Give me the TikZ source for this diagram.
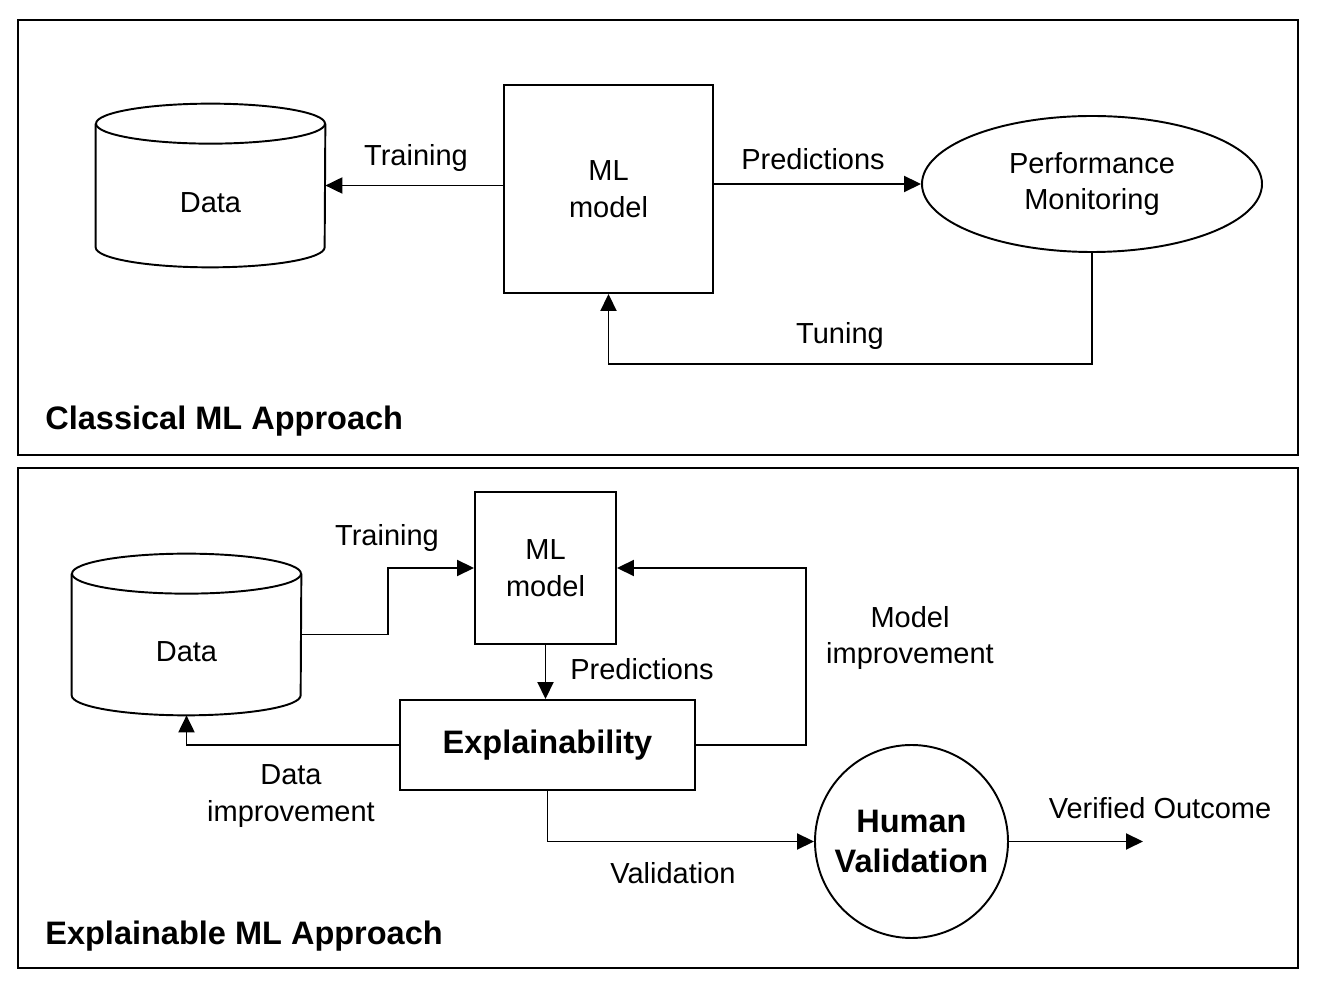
\documentclass[tikz,border=0pt]{standalone}
\usepackage{fontspec}
\setmainfont{Liberation Sans}
\usetikzlibrary{arrows.meta,shapes.geometric}

\tikzset{
	stroke/.style={line width=1.1pt},
	panel/.style={stroke},
	box/.style={draw,stroke,rectangle,align=center,inner sep=0pt},
	dbbox/.style={rectangle,inner sep=0pt,minimum width=4.58cm},
	flow/.style={stroke,-{Triangle[length=0.34cm,width=0.32cm]}},
	lbl/.style={align=center,font=\fontsize{16.5}{21}\selectfont},
	heavy/.style={align=center,font=\fontsize{18.5}{22.5}\selectfont\bfseries},
	title/.style={anchor=west,inner sep=0pt,font=\fontsize{18.5}{22}\selectfont\bfseries}
}

\newcommand{\database}[4]{

	\node[dbbox,minimum height=#3] (#1) at #2 {};
	\draw[stroke] ([yshift=-0.4cm]#1.north west) -- ([yshift=0.4cm]#1.south west) arc (180:360:2.29cm and 0.4cm) -- ([yshift=-0.4cm]#1.north east);
	\draw[stroke] ([yshift=-0.4cm]#1.north) ellipse (2.29cm and 0.4cm);
	\node[lbl] (#1-label) at ([yshift=-0.35cm]#1.center) {#4};

}

\begin{document}
\begin{tikzpicture}

	\useasboundingbox (0,0) rectangle (26.34,19.68);

	% classical approach
	\draw[panel] (0.36,19.28) rectangle (25.96,10.58);
	\node[title] (classical) at (0.9,11.26) {Classical ML Approach};

	\database{db1}{(4.21,15.97)}{3.26cm}{Data}
	\node[box,lbl,minimum width=4.18cm,minimum height=4.16cm] (model1) at (12.17,15.9) {ML\\model};
	\node[draw,stroke,ellipse,lbl,inner sep=0pt,minimum width=6.8cm,minimum height=2.72cm] (monitor) at (21.84,16.0) {Performance\\Monitoring};
	\coordinate (tunecorner) at (21.84,12.4);

	\draw[flow] (db1.east -| model1.west) -- (db1.east);
	\draw[flow] (model1.east |- monitor.west) -- (monitor.west);
	\draw[flow] (monitor.south) -- (tunecorner) -| (model1.south);

	\node[lbl] (train1) at (8.32,16.52) {Training};
	\node[lbl] (pred1) at (16.26,16.5) {Predictions};
	\node[lbl] (tune1) at (16.8,12.96) {Tuning};

	% explainable approach
	\draw[panel] (0.36,10.32) rectangle (25.96,0.32);
	\node[title] (explainable) at (0.9,0.96) {Explainable ML Approach};

	\database{db2}{(3.73,6.99)}{3.22cm}{Data}
	\node[box,lbl,minimum width=2.82cm,minimum height=3.04cm] (model2) at (10.91,8.32) {ML\\model};
	\node[box,heavy,minimum width=5.9cm,minimum height=1.8cm] (explain) at (10.95,4.78) {Explainability};
	\node[draw,stroke,circle,heavy,inner sep=0pt,minimum size=3.86cm] (human) at (18.23,2.85) {Human\\Validation};
	\coordinate (outcome) at (22.86,2.85);

	\draw[flow] (db2.east) -- ++(1.74,0) |- (model2.west);
	\draw[flow] (model2.south) -- (model2.south |- explain.north);
	\draw[flow] (explain.east) -- ++(2.2,0) |- (model2.east);
	\draw[flow] (explain.west) -| (db2.south);
	\draw[flow] (explain.south) |- (human.west);
	\draw[flow] (human.east) -- (outcome);

	\node[lbl] (train2) at (7.74,8.92) {Training};
	\node[lbl] (pred2) at (12.84,6.3) {Predictions};
	\node[lbl] (modimp) at (18.2,6.92) {Model\\improvement};
	\node[lbl] (dataimp) at (5.82,3.76) {Data\\improvement};
	\node[lbl] (valid) at (13.46,2.22) {Validation};
	\node[lbl] (verified) at (23.2,3.52) {Verified Outcome};

\end{tikzpicture}
\end{document}
